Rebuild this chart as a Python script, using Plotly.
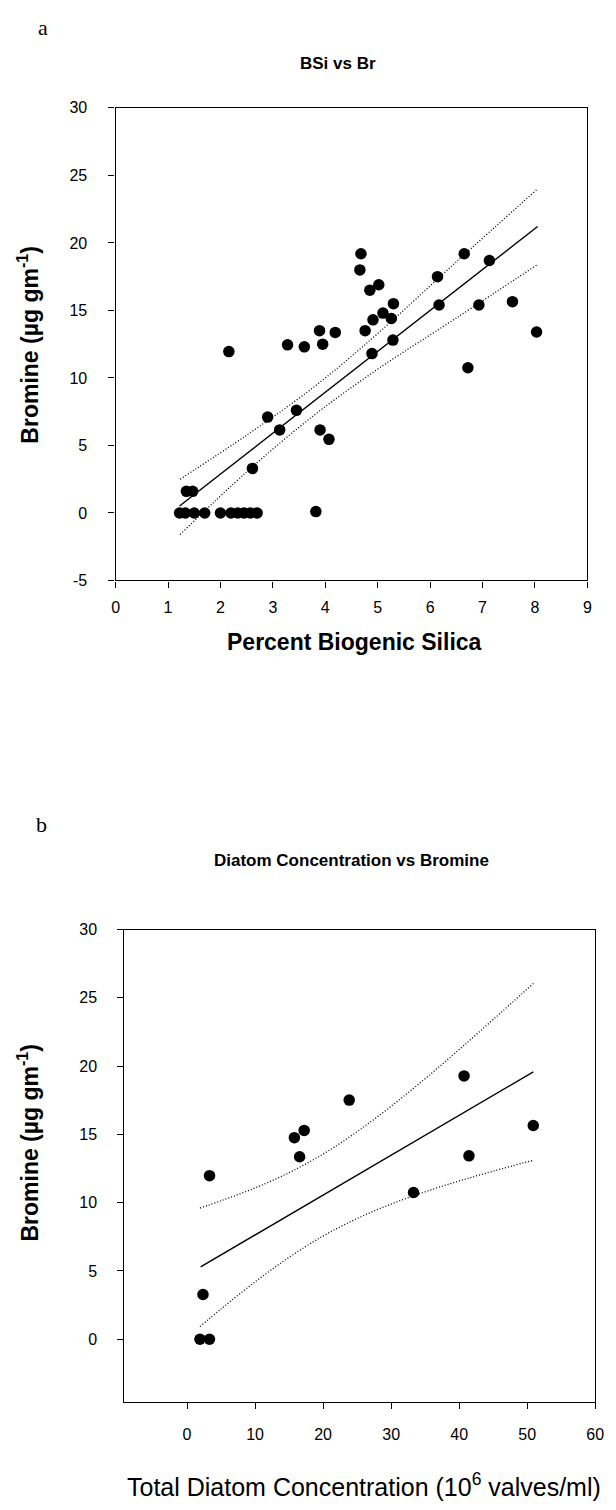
import plotly.graph_objects as go

W, H = 616, 1510

# ---------- Panel a data ----------
bsi_pct = [1.22, 1.33, 1.5, 1.7, 2.0, 2.2, 2.33, 2.45, 2.57, 2.7, 3.82,
           1.35, 1.47, 2.61, 2.9, 3.13, 3.45, 3.9, 4.07, 2.16, 3.28, 3.6,
           3.89, 3.95, 4.19, 4.76, 4.68, 4.66, 4.85, 5.02, 4.91, 5.1, 5.26,
           5.3, 5.29, 4.89, 6.14, 6.17, 6.65, 7.13, 6.93, 7.57, 8.03, 6.72]
bromine_a = [0, 0, 0, 0, 0, 0, 0, 0, 0, 0, 0.1,
             1.6, 1.6, 3.3, 7.1, 6.15, 7.6, 6.15, 5.45, 11.95, 12.45, 12.3,
             13.5, 12.5, 13.37, 13.5, 19.2, 18.0, 16.5, 16.9, 14.3, 14.8, 14.4,
             15.5, 12.8, 11.8, 17.5, 15.4, 19.2, 18.7, 15.4, 15.65, 13.4, 10.75]
fit_a_x = [1.22, 8.05]
fit_a_y = [0.52, 21.21]
band_a_x = [1.23, 2.5, 3.8, 5.0, 6.5, 8.05]
band_a_up = [2.5, 5.76, 9.38, 13.29, 18.6, 24.0]
band_a_lo = [-1.6, 3.04, 7.28, 10.65, 14.44, 18.4]
ticks_a_x = [0, 1, 2, 3, 4, 5, 6, 7, 8, 9]
ticks_a_y = [-5, 0, 5, 10, 15, 20, 25, 30]
ticklabels_a_y = ["-5", "0", "5", "10", "15", "20", "25", "30"]

# ---------- Panel b data ----------
diatom_conc = [1.9, 3.3, 2.35, 3.31, 15.78, 17.22, 16.55, 23.84, 33.29, 40.72, 41.44, 50.89]
bromine_b = [0, 0, 3.28, 11.98, 14.76, 15.29, 13.36, 17.51, 10.75, 19.28, 13.43, 15.65]
fit_b_x = [2.0, 50.9]
fit_b_y = [5.3, 19.58]
band_b_x = [1.9, 5, 10, 15, 20, 25, 30, 35, 40, 45, 50.9]
band_b_up = [9.61, 10.14, 11.08, 12.2, 13.56, 15.2, 17.06, 19.08, 21.21, 23.41, 26.05]
band_b_lo = [0.93, 2.22, 4.2, 6.0, 7.56, 8.84, 9.9, 10.8, 11.59, 12.31, 13.11]
ticks_b_x = [0, 10, 20, 30, 40, 50, 60]
ticks_b_y = [0, 5, 10, 15, 20, 25, 30]

FONT = "Liberation Sans, Arial, sans-serif"
SERIF = "Liberation Serif, Times New Roman, serif"

fig = go.Figure()

def add_panel(xs, ys, fx, fy, bx, bu, bl, xa, ya):
    for band in (bu, bl):
        fig.add_trace(go.Scatter(x=bx, y=band, mode="lines", xaxis=xa, yaxis=ya,
                                 line=dict(color="black", width=1.3, dash="1px,2px", shape="spline"),
                                 showlegend=False, hoverinfo="skip"))
    fig.add_trace(go.Scatter(x=fx, y=fy, mode="lines", xaxis=xa, yaxis=ya,
                             line=dict(color="black", width=1.4),
                             showlegend=False, hoverinfo="skip"))
    fig.add_trace(go.Scatter(x=xs, y=ys, mode="markers", xaxis=xa, yaxis=ya,
                             marker=dict(color="black", size=11.5, line=dict(width=0)),
                             showlegend=False))

add_panel(bsi_pct, bromine_a, fit_a_x, fit_a_y, band_a_x, band_a_up, band_a_lo, "x", "y")
add_panel(diatom_conc, bromine_b, fit_b_x, fit_b_y, band_b_x, band_b_up, band_b_lo, "x2", "y2")

axis_common = dict(showline=True, linecolor="black", linewidth=1.3, mirror=True,
                   ticks="outside", ticklen=6, tickwidth=1, tickcolor="black",
                   showgrid=False, zeroline=False,
                   tickfont=dict(family=FONT, size=16, color="black"))

def px_x(p):
    return p / W

def px_y(p):
    return 1 - p / H

fig.update_layout(
    width=W, height=H, margin=dict(l=0, r=0, t=0, b=0),
    paper_bgcolor="white", plot_bgcolor="white",
    xaxis=dict(domain=[px_x(114), px_x(596)], range=[0, 9], tickvals=ticks_a_x,
               anchor="y", ticklabelstandoff=6, **axis_common),
    yaxis=dict(domain=[px_y(579), px_y(101)], range=[-5, 30], tickvals=ticks_a_y,
               ticktext=ticklabels_a_y, anchor="x", ticklabelstandoff=18, **axis_common),
    xaxis2=dict(domain=[px_x(123), px_x(604)], range=[-9.2, 60], tickvals=ticks_b_x,
                anchor="y2", ticklabelstandoff=12, **axis_common),
    yaxis2=dict(domain=[px_y(1410), px_y(932)], range=[-4.6, 30], tickvals=ticks_b_y,
                anchor="x2", ticklabelstandoff=17, **axis_common),
)

ann = []
def text(x, y, s, size, family=FONT, angle=0):
    ann.append(dict(x=px_x(x), y=px_y(y), xref="paper", yref="paper", text=s,
                    showarrow=False, xanchor="center", yanchor="middle", textangle=angle,
                    font=dict(family=family, size=size, color="black")))

text(40, 20, "a", 22, family=SERIF)
text(341, 56, "<b>BSi vs Br</b>", 17)
text(358, 641, "<b>Percent Biogenic Silica</b>", 23)
text(25, 340, "<b>Bromine (µg gm<sup>-1</sup>)</b>", 23, angle=-90)

text(38, 826, "b", 22, family=SERIF)
text(355, 862, "<b>Diatom Concentration vs Bromine</b>", 17)
text(368, 1494, "Total Diatom Concentration (10<sup>6</sup> valves/ml)", 25)
text(25, 1147, "<b>Bromine (µg gm<sup>-1</sup>)</b>", 23, angle=-90)

fig.update_layout(annotations=ann)
fig.write_html("out.html")
